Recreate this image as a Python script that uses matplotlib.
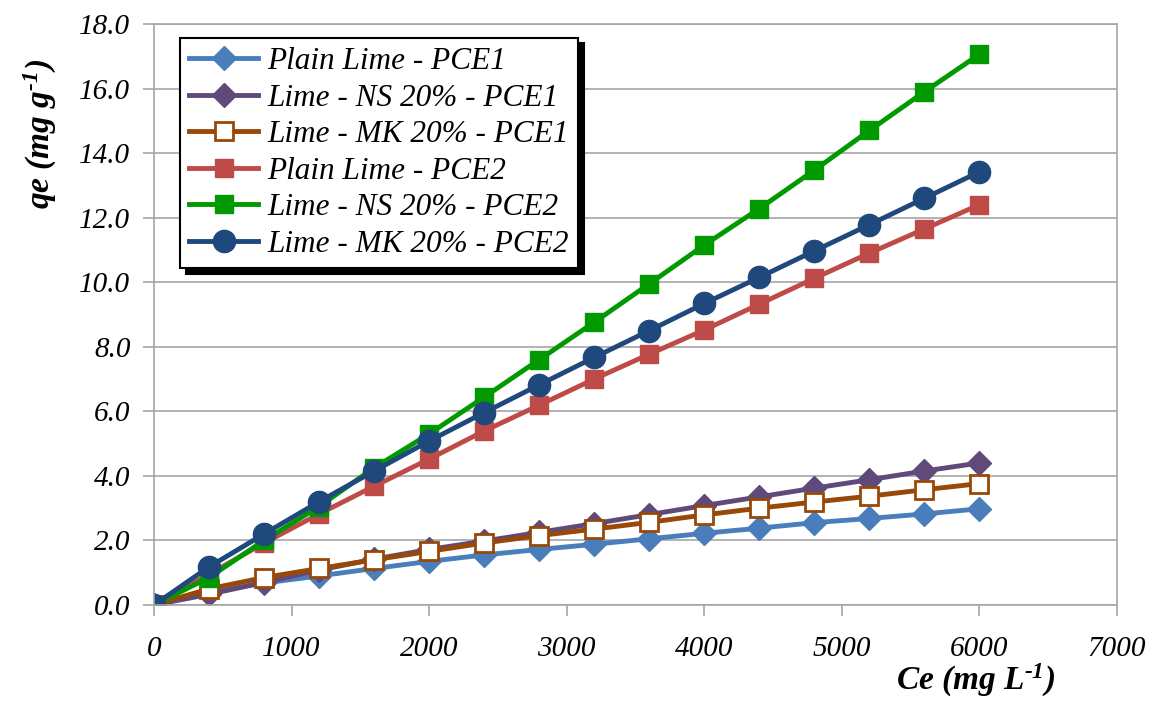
import matplotlib.pyplot as plt

# Data
ce = [0, 400, 800, 1200, 1600, 2000, 2400, 2800, 3200, 3600, 4000, 4400, 4800, 5200, 5600, 6000]

plain_pce1 = [0, 0.40, 0.68, 0.90, 1.13, 1.35, 1.55, 1.72, 1.88, 2.05, 2.22, 2.38, 2.55, 2.68, 2.82, 2.98]
ns_pce1 = [0, 0.33, 0.70, 1.08, 1.42, 1.72, 1.98, 2.25, 2.52, 2.80, 3.08, 3.35, 3.62, 3.88, 4.15, 4.40]
mk_pce1 = [0, 0.50, 0.85, 1.13, 1.40, 1.66, 1.92, 2.15, 2.35, 2.56, 2.79, 3.00, 3.19, 3.37, 3.57, 3.76]
plain_pce2 = [0, 0.95, 1.92, 2.82, 3.68, 4.52, 5.39, 6.19, 7.00, 7.77, 8.52, 9.32, 10.12, 10.90, 11.65, 12.40]
ns_pce2 = [0, 0.85, 2.00, 3.05, 4.25, 5.30, 6.44, 7.60, 8.76, 9.95, 11.15, 12.28, 13.47, 14.70, 15.90, 17.06]
mk_pce2 = [0, 1.18, 2.20, 3.20, 4.15, 5.08, 5.96, 6.82, 7.67, 8.50, 9.34, 10.15, 10.97, 11.78, 12.60, 13.42]

plt.rcParams['font.family'] = ['Liberation Serif', 'DejaVu Serif']
plt.rcParams['mathtext.fontset'] = 'custom'
plt.rcParams['mathtext.it'] = 'Liberation Serif:italic:bold'
plt.rcParams['mathtext.rm'] = 'Liberation Serif:italic:bold'

fig = plt.figure(figsize=(11.53, 7.01), dpi=100)
ax = fig.add_axes([0.1336, 0.137, 0.8352, 0.8288])

lw = 3.5
ax.plot(ce, plain_pce1, color='#4A7EBB', lw=lw, marker='D', ms=12, label='Plain Lime - PCE1')
ax.plot(ce, ns_pce1, color='#604A7B', lw=lw, marker='D', ms=12, label='Lime - NS 20% - PCE1')
ax.plot(ce, mk_pce1, color='#984807', lw=lw, marker='s', ms=13, mfc='white', mec='#984807', mew=2,
        label='Lime - MK 20% - PCE1')
ax.plot(ce, plain_pce2, color='#BE4B48', lw=lw, marker='s', ms=13, label='Plain Lime - PCE2')
ax.plot(ce, ns_pce2, color='#009900', lw=lw, marker='s', ms=13, label='Lime - NS 20% - PCE2')
ax.plot(ce, mk_pce2, color='#1F497D', lw=lw, marker='o', ms=16, label='Lime - MK 20% - PCE2')

ax.set_xlim(0, 7000)
ax.set_ylim(0, 18)
ax.set_xticks(range(0, 7001, 1000))
ax.set_yticks([i * 2 for i in range(10)])
ax.set_yticklabels(['%.1f' % (i * 2) for i in range(10)])
ax.yaxis.grid(True, color='#A6A6A6', lw=1.2)
ax.set_axisbelow(True)
for s in ax.spines.values():
    s.set_color('#A6A6A6')
    s.set_linewidth(1.2)
ax.tick_params(direction='out', length=8, color='#A6A6A6', width=1.2, labelsize=21, pad=9)
ax.tick_params(axis='x', pad=14)
for lab in ax.get_xticklabels() + ax.get_yticklabels():
    lab.set_fontstyle('italic')

ax.text(-0.118, 0.81, r'qe (mg g$^{\text{-1}}$)', transform=ax.transAxes, rotation=90,
        ha='center', va='center', fontsize=24, fontweight='bold', fontstyle='italic')
ax.text(0.853, -0.13, r'Ce (mg L$^{\text{-1}}$)', transform=ax.transAxes,
        ha='center', va='center', fontsize=24, fontweight='bold', fontstyle='italic')

leg = ax.legend(loc='upper left', bbox_to_anchor=(0.027, 0.976),
                prop={'style': 'italic', 'size': 22.5}, fancybox=False, framealpha=1,
                edgecolor='black', handlelength=2.2, handletextpad=0.3,
                labelspacing=0.24, borderpad=0.3, borderaxespad=0,
                shadow={'color': 'black', 'alpha': 1, 'ox': 4, 'oy': -4})
leg.get_frame().set_linewidth(1.5)

fig.savefig('out.png', dpi=100)
